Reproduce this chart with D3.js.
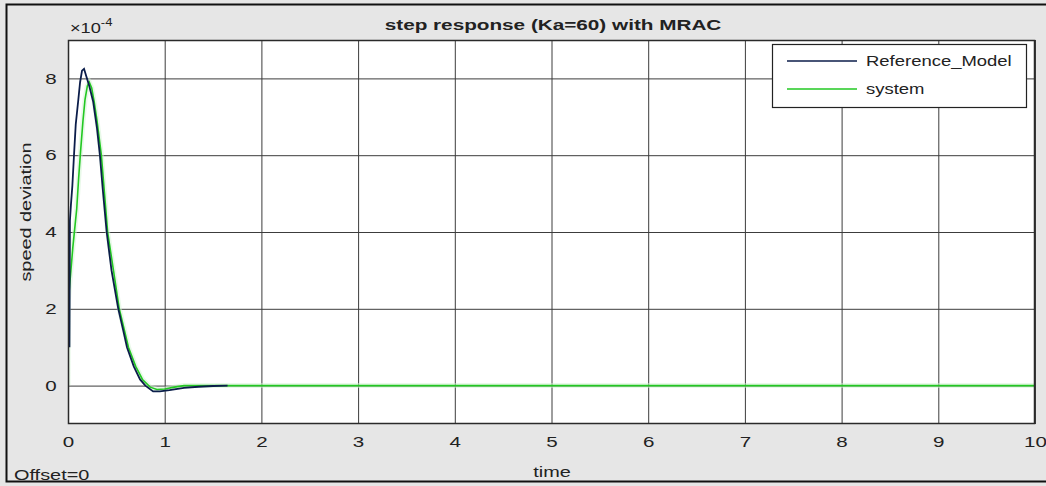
<!DOCTYPE html>
<html>
<head>
<meta charset="utf-8">
<script src="https://cdn.jsdelivr.net/npm/d3@7/dist/d3.min.js"></script>
<style>
  body { margin: 0; background: #e6e6e6; }
  text { font-family: "Liberation Sans", Arial, sans-serif; fill: #222; }
</style>
</head>
<body>
<svg id="chart"></svg>
<script>
// values in units of 1e-4
const refTime  = [0.015, 0.02, 0.03, 0.045, 0.062, 0.08, 0.107, 0.125, 0.145, 0.166, 0.19, 0.22, 0.26, 0.30, 0.33, 0.36, 0.40, 0.45, 0.52, 0.57, 0.61, 0.68, 0.745, 0.80, 0.88, 0.95, 1.05, 1.2, 1.35, 1.5, 1.65];
const refValue = [1.0, 4.3, 4.7, 5.2, 6.0, 6.8, 7.45, 7.9, 8.2, 8.25, 8.05, 7.8, 7.4, 6.7, 6.0, 5.1, 4.0, 3.0, 2.0, 1.45, 1.0, 0.5, 0.16, 0.0, -0.15, -0.15, -0.12, -0.06, -0.03, -0.01, 0];

const sysTime  = [0, 0.003, 0.03, 0.05, 0.07, 0.09, 0.11, 0.13, 0.155, 0.176, 0.20, 0.22, 0.245, 0.27, 0.30, 0.345, 0.41, 0.47, 0.53, 0.625, 0.70, 0.77, 0.85, 0.92, 1.0, 1.1, 1.2, 10];
const sysValue = [0, 2.2, 3.0, 3.6, 4.1, 4.6, 5.4, 6.1, 6.9, 7.45, 7.8, 7.9, 7.75, 7.4, 6.9, 6.0, 4.0, 3.0, 2.0, 1.0, 0.5, 0.16, -0.04, -0.1, -0.09, -0.04, 0, 0];

const xTicks = [0, 1, 2, 3, 4, 5, 6, 7, 8, 9, 10];
const yTicks = [0, 2, 4, 6, 8];
const seriesNames = ['Reference_Model', 'system'];
const seriesColors = ['#0b1d4a', '#22c822'];

const width = 1046, height = 486;
const plot = {left: 68, top: 40, right: 1035, bottom: 424};
const sx = 1.42; // text in the picture is stretched sideways

const svg = d3.select('#chart').attr('width', width).attr('height', height);

svg.append('rect').attr('width', width).attr('height', height).attr('fill', '#e6e6e6');
svg.append('rect')
  .attr('x', 6.5).attr('y', 4.5).attr('width', width).attr('height', 477)
  .attr('fill', 'none').attr('stroke', '#111').attr('stroke-width', 2);

const xScale = d3.scaleLinear().domain([0, 10]).range([plot.left, plot.right]);
const yScale = d3.scaleLinear().domain([-1, 9]).range([plot.bottom, plot.top]);

svg.append('rect')
  .attr('x', plot.left).attr('y', plot.top)
  .attr('width', plot.right - plot.left).attr('height', plot.bottom - plot.top)
  .attr('fill', '#fff');

const xAxis = d3.axisBottom(xScale).tickValues(xTicks).tickFormat(d3.format('d'))
  .tickSizeInner(-(plot.bottom - plot.top)).tickSizeOuter(0).tickPadding(13);
const gx = svg.append('g')
  .attr('transform', 'translate(0,' + plot.bottom + ')')
  .call(xAxis);

const yAxis = d3.axisLeft(yScale).tickValues(yTicks).tickFormat(d3.format('d'))
  .tickSizeInner(-(plot.right - plot.left)).tickSizeOuter(0).tickPadding(8);
const gy = svg.append('g')
  .attr('transform', 'translate(' + plot.left + ',0)')
  .call(yAxis);

[gx, gy].forEach(g => {
  g.select('.domain').remove();
  g.selectAll('line').attr('stroke', '#3c3c3c').attr('stroke-width', 1);
  g.selectAll('text')
    .attr('font-size', 14.5).attr('fill', '#222')
    .attr('font-family', '"Liberation Sans", Arial, sans-serif');
});
gx.selectAll('text').attr('transform', 'scale(' + sx + ',1)');
gy.selectAll('text').attr('transform', 'scale(' + sx + ',1)');

// curves
svg.append('clipPath').attr('id', 'clip').append('rect')
  .attr('x', plot.left).attr('y', plot.top)
  .attr('width', plot.right - plot.left).attr('height', plot.bottom - plot.top);

const line = d3.line().x(d => xScale(d[0])).y(d => yScale(d[1]));
const sysData = d3.zip(sysTime, sysValue);
const refData = d3.zip(refTime, refValue);

const curves = svg.append('g').attr('clip-path', 'url(#clip)');
curves.append('path').datum(sysData).attr('d', line)
  .attr('fill', 'none').attr('stroke', '#d2f4d2').attr('stroke-width', 5).attr('opacity', 0.5);
curves.append('path').datum(sysData).attr('d', line)
  .attr('fill', 'none').attr('stroke', seriesColors[1]).attr('stroke-width', 1.6);
curves.append('path').datum(refData).attr('d', line)
  .attr('fill', 'none').attr('stroke', seriesColors[0]).attr('stroke-width', 1.8);

svg.append('rect')
  .attr('x', plot.left + 0.5).attr('y', plot.top + 0.5)
  .attr('width', plot.right - plot.left - 1).attr('height', plot.bottom - plot.top - 1)
  .attr('fill', 'none').attr('stroke', '#2a2a2a').attr('stroke-width', 1.5);

// texts
const label = (txt, x, y, opts = {}) => {
  return svg.append('text')
    .attr('transform', 'translate(' + x + ',' + y + ') scale(' + (opts.k || sx) + ',1)')
    .attr('text-anchor', opts.anchor || 'middle')
    .attr('font-size', opts.size || 14)
    .attr('font-weight', opts.bold ? 'bold' : 'normal')
    .text(txt);
};

label('step response (Ka=60) with MRAC', 553, 30, {bold: true, k: 1.48});
label('time', 552, 477);
label('Offset=0', 14, 480, {anchor: 'start'});
svg.append('text')
  .attr('transform', 'translate(31,212) rotate(-90) scale(' + sx + ',1)')
  .attr('text-anchor', 'middle').attr('font-size', 14)
  .text('speed deviation');

const expo = svg.append('text')
  .attr('transform', 'translate(70,33) scale(1.3,1)')
  .attr('font-size', 14);
expo.append('tspan').text('\u00d710');
expo.append('tspan').attr('font-size', 10).attr('dy', -7).text('-4');

// legend
const legend = svg.append('g');
legend.append('rect')
  .attr('x', 772.5).attr('y', 44.5).attr('width', 254).attr('height', 63)
  .attr('fill', '#fff').attr('stroke', '#222').attr('stroke-width', 1.2);
seriesNames.forEach((name, i) => {
  const y = 61 + i * 28;
  legend.append('line')
    .attr('x1', 787).attr('x2', 857).attr('y1', y).attr('y2', y)
    .attr('stroke', seriesColors[i]).attr('stroke-width', 1.6);
  legend.append('text')
    .attr('transform', 'translate(866,' + (y + 5) + ') scale(1.32,1)')
    .attr('font-size', 14)
    .text(name);
});
</script>
</body>
</html>
